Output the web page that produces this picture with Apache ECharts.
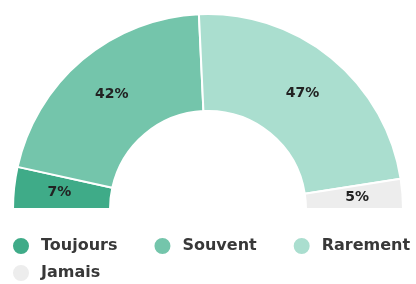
<!DOCTYPE html>
<html>
<head>
<meta charset="utf-8">
<script src="https://cdn.jsdelivr.net/npm/echarts@6/dist/echarts.min.js"></script>
<style>
  html, body { margin: 0; padding: 0; background: #fff; }
  #chart { width: 416px; height: 284px; }
</style>
</head>
<body>
<div id="chart"></div>
<script>
// réponses (pourcentages)
const categories = ['Toujours', 'Souvent', 'Rarement', 'Jamais'];
const values = [7, 42, 47, 5];
const colors = ['#3fab88', '#74c5ab', '#aadecf', '#ededed'];

const legendText = { fontFamily: 'DejaVu Sans', fontWeight: 'bold', fontSize: 16, color: '#383838' };

const chart = echarts.init(document.getElementById('chart'));
chart.setOption({
    animation: false,
    legend: [{
        data: categories.slice(0, 3),
        left: 6,
        top: 231,
        width: 520, // pas de retour à la ligne
        icon: 'circle',
        itemWidth: 30,
        itemHeight: 18,
        itemGap: 35,
        textStyle: legendText
    }, {
        // deuxième ligne de la légende
        data: categories.slice(3),
        left: 6,
        top: 258,
        icon: 'circle',
        itemWidth: 30,
        itemHeight: 18,
        textStyle: legendText
    }],
    series: [{
        type: 'pie',
        center: [208, 209],
        radius: [98, 195],
        startAngle: 180,
        endAngle: 0,
        clockwise: true,
        itemStyle: { borderColor: '#fff', borderWidth: 2 },
        label: {
            show: true,
            position: 'inside',
            formatter: '{c}%',
            fontFamily: 'DejaVu Sans',
            fontWeight: 'bold',
            fontSize: 14,
            color: '#222'
        },
        labelLine: { show: false },
        data: categories.map((name, i) => ({
            name: name,
            value: values[i],
            itemStyle: { color: colors[i] }
        }))
    }]
});
</script>
</body>
</html>
